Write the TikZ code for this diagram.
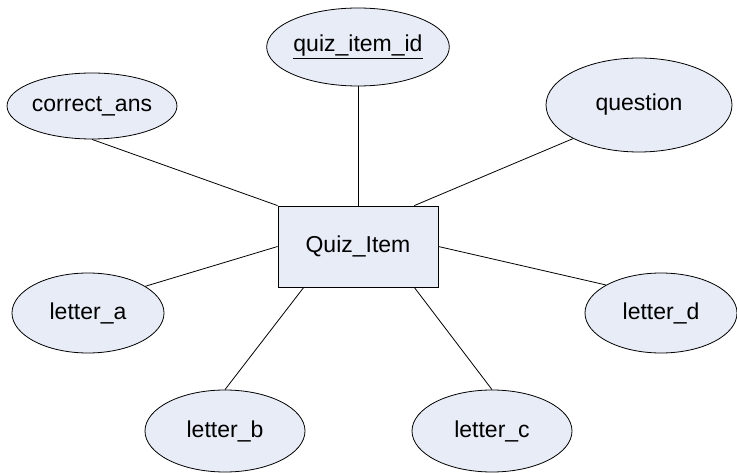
\documentclass[tikz,border=0pt]{standalone}
\usepackage{fontspec}
\setmainfont{Liberation Sans}
\usetikzlibrary{shapes.geometric}
\definecolor{attrfill}{RGB}{231,236,247}
\tikzset{
    attr/.style={ellipse, draw, fill=attrfill, inner sep=0pt}, % 属性的样式
    entity/.style={rectangle, draw, fill=attrfill, minimum width=160pt, minimum height=81pt} % 实体的样式
}

\begin{document}
\begin{tikzpicture}[x=1pt, y=-1pt, line width=0.8pt, font=\fontsize{23}{27}\selectfont]
    \useasboundingbox (0,0) rectangle (737,473);

    \node[entity] (item) at (358,246.5) {Quiz\_Item};

    \node[attr, minimum width=160pt, minimum height=78pt] (qid) at (358,47) {\underline{quiz\_item\_id}};
    \node[attr, minimum width=160pt, minimum height=66pt] (ca) at (92,106) {correct\_ans};
    \node[attr, minimum width=186pt, minimum height=94pt] (q) at (639,105) {question};
    \node[attr, minimum width=152pt, minimum height=80pt] (la) at (88,313) {letter\_a};
    \node[attr, minimum width=152pt, minimum height=80pt] (ld) at (661,313) {letter\_d};
    \node[attr, minimum width=160pt, minimum height=82pt] (lb) at (225,431) {letter\_b};
    \node[attr, minimum width=160pt, minimum height=82pt] (lc) at (492,431) {letter\_c};

    \draw (item.north) -- (qid.south);
    \draw (item.north west) -- (ca.south);
    \draw (item.36) -- (q.207);
    \draw (item.west) -- (la.25);
    \draw (item.east) -- (ld.153);
    \draw (item.217) -- (lb.north);
    \draw (item.324) -- (lc.north);
\end{tikzpicture}
\end{document}
